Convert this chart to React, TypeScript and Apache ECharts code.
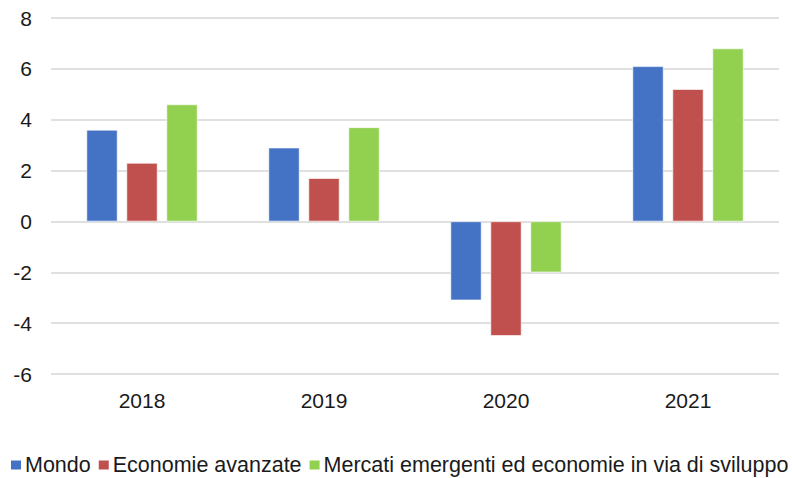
import React, { useEffect, useRef } from "react";
import * as echarts from "echarts";

const categories = ["2018", "2019", "2020", "2021"];
const mondo = [3.6, 2.9, -3.1, 6.1];
const avanzate = [2.3, 1.7, -4.5, 5.2];
const emergenti = [4.6, 3.7, -2.0, 6.8];
const seriesNames = [
  "Mondo",
  "Economie avanzate",
  "Mercati emergenti ed economie in via di sviluppo",
];
const colors = ["#4472C4", "#C0504D", "#92D050"];

export default function App() {
  const ref = useRef<HTMLDivElement>(null);
  useEffect(() => {
    if (!ref.current) return;
    const chart = echarts.init(ref.current, null, { renderer: "svg" });
    const font = "Liberation Sans, Arial, sans-serif";
    const data = [mondo, avanzate, emergenti];
    chart.setOption({
      animation: false,
      textStyle: { fontFamily: font },
      grid: { left: 51, right: 13, top: 18, bottom: 104 },
      legend: {
        top: 449,
        left: 4,
        padding: [5, 0, 0, 5],
        itemWidth: 12,
        itemHeight: 11,
        itemGap: 6,
        icon: "rect",
        textStyle: { fontSize: 21.5, lineHeight: 20, color: "#1a1a1a", fontFamily: font, padding: [0, 0, 0, -2] },
        data: seriesNames,
      },
      xAxis: {
        type: "category",
        data: categories,
        axisLine: { show: false },
        axisTick: { show: false },
        axisLabel: { fontSize: 21, color: "#1a1a1a", margin: 16 },
      },
      yAxis: {
        type: "value",
        min: -6,
        max: 8,
        interval: 2,
        axisLine: { show: false },
        axisTick: { show: false },
        axisLabel: { fontSize: 21, color: "#1a1a1a", margin: 19 },
        splitLine: { lineStyle: { color: "#e0e0e0", width: 2 } },
      },
      series: data.map((d, i) => ({
        name: seriesNames[i],
        type: "bar",
        data: d,
        barWidth: 31,
        barGap: "29%",
        itemStyle: { color: colors[i], borderColor: "#fff", borderWidth: 0.6 },
      })),
    });
    return () => chart.dispose();
  }, []);
  return (
    <div
      ref={ref}
      style={{ position: "fixed", left: 0, top: 0, width: 792, height: 478, background: "#fff" }}
    />
  );
}
